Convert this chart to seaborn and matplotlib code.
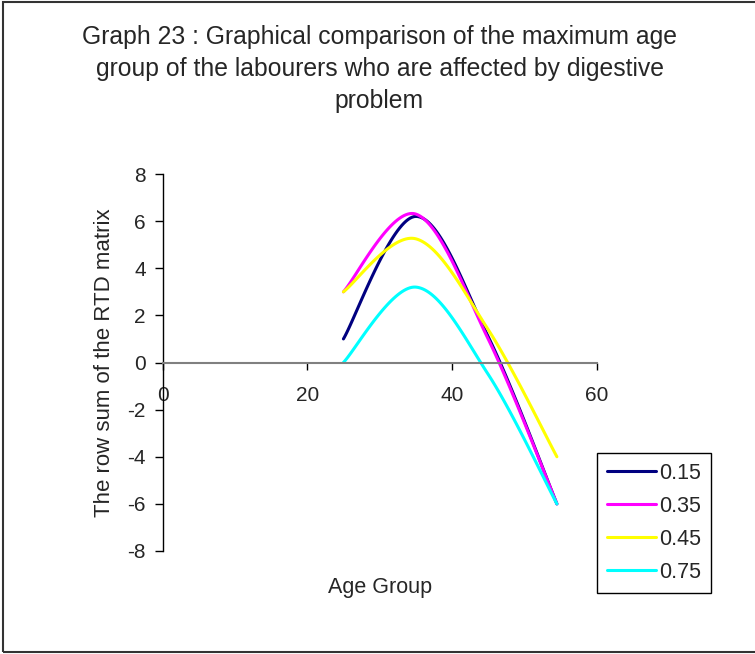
import numpy as np
import pandas as pd
import matplotlib
matplotlib.use("Agg")
import matplotlib.pyplot as plt
import seaborn as sns
from matplotlib.patches import Rectangle
from matplotlib.lines import Line2D

# values
age_group = [25, 35, 45, 54.5]
series_names = ["0.15", "0.35", "0.45", "0.75"]
row_sum_015 = [1.0, 6.2, 1.1, -6.0]
row_sum_035 = [3.0, 6.3, 1.0, -6.0]
row_sum_045 = [3.0, 5.25, 1.4, -4.0]
row_sum_075 = [0.0, 3.2, -0.5, -6.0]
line_colors = ["#000080", "#FF00FF", "#FFFF00", "#00FFFF"]

x_ticks = [0, 20, 40, 60]
y_ticks = [-8, -6, -4, -2, 0, 2, 4, 6, 8]


def excel_smooth(xs, ys, steps=40):
    # Excel-style smoothed line: cubic bezier through the points
    p = np.column_stack([xs, ys]).astype(float)
    ext = np.vstack([p[0], p, p[-1]])
    out = []
    for i in range(len(p) - 1):
        p0, p1 = ext[i + 1], ext[i + 2]
        c1 = p0 + (ext[i + 2] - ext[i]) / 6
        c2 = p1 - (ext[i + 3] - ext[i + 1]) / 6
        t = np.linspace(0, 1, steps)[:, None]
        seg = ((1 - t) ** 3) * p0 + 3 * ((1 - t) ** 2) * t * c1 + 3 * (1 - t) * t ** 2 * c2 + t ** 3 * p1
        out.append(seg if i == 0 else seg[1:])
    return np.vstack(out)


frames = []
for name, vals in zip(series_names, [row_sum_015, row_sum_035, row_sum_045, row_sum_075]):
    curve = excel_smooth(age_group, vals)
    frames.append(pd.DataFrame({"age": curve[:, 0], "value": curve[:, 1],
                                "series": name, "step": np.arange(len(curve))}))
df = pd.concat(frames, ignore_index=True)

sns.set_style("white")
plt.rcParams["font.family"] = ["Liberation Sans", "DejaVu Sans"]
plt.rcParams["axes.unicode_minus"] = False

fig = plt.figure(figsize=(7.55, 6.54), dpi=100)
ax = fig.add_axes([162.5 / 755, 1 - 551 / 654, 434.2 / 755, 377 / 654])

sns.lineplot(data=df, x="age", y="value", hue="series", hue_order=series_names,
             palette=line_colors, sort=False, estimator=None, linewidth=2.2,
             legend=False, ax=ax)

ax.set_xlim(0, 60)
ax.set_ylim(-8, 8)
ax.set_xticks(x_ticks)
ax.set_yticks(y_ticks)

ax.spines["top"].set_visible(False)
ax.spines["right"].set_visible(False)
ax.spines["left"].set_color("black")
ax.spines["left"].set_linewidth(1)
ax.spines["bottom"].set_position(("data", 0))
ax.spines["bottom"].set_color("#808080")
ax.spines["bottom"].set_linewidth(1.5)

ax.tick_params(axis="x", direction="out", length=5, width=1, color="black",
               pad=12, labelsize=15, bottom=True)
ax.tick_params(axis="y", direction="out", length=6, width=1, color="black",
               pad=6, labelsize=15, left=True)

ax.set_xlabel("Age Group", fontsize=15.5, va="center")
ax.xaxis.set_label_coords(0.501, (551 - 588) / 377)
ax.set_ylabel("The row sum of the RTD matrix", fontsize=16, va="center")
ax.yaxis.set_label_coords((105 - 162.5) / 434.2, 0.5)

fig.text(379.5 / 755, 1 - 25 / 654,
         "Graph 23 : Graphical comparison of the maximum age\n"
         "group of the labourers who are affected by digestive\nproblem",
         ha="center", va="top", fontsize=17.8, linespacing=1.43)

handles = [Line2D([], [], color=c, linewidth=2.2) for c in line_colors]
leg = ax.legend(handles, series_names, loc="upper left",
                bbox_to_anchor=(597 / 755, 1 - 453 / 654), bbox_transform=fig.transFigure,
                borderaxespad=0, fontsize=15.5, handlelength=2.3, handletextpad=0.15,
                labelspacing=0.56, borderpad=0.45, fancybox=False, framealpha=1)
leg.get_frame().set_edgecolor("black")
leg.get_frame().set_linewidth(1)

fig.patches.append(Rectangle((3 / 755, 2 / 654), 1.0, 1 - 4 / 654, transform=fig.transFigure,
                             fill=False, edgecolor="#333333", linewidth=1.5, clip_on=True))

fig.savefig("out.png", dpi=100)
